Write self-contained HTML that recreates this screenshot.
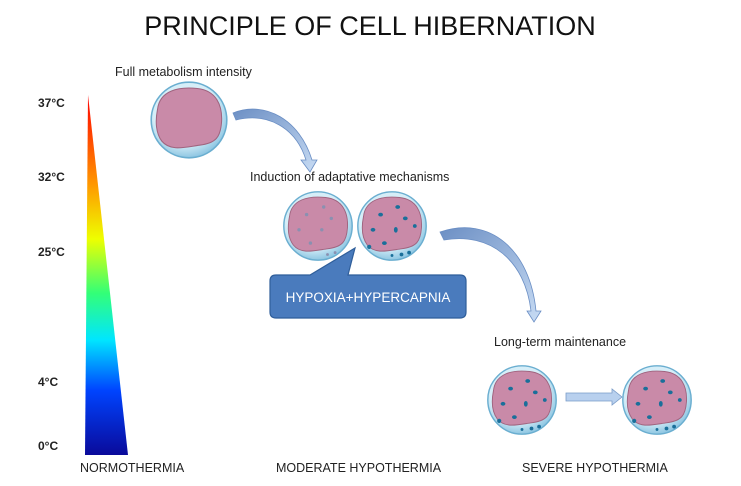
<!DOCTYPE html>
<html><head><style>
body{margin:0;background:#fff;}
svg{display:block;font-family:"Liberation Sans",sans-serif;}
</style></head><body>
<svg width="741" height="486" viewBox="0 0 741 486">
<defs>
<linearGradient id="g" x1="0" y1="0" x2="0" y2="1">
<stop offset="0" stop-color="#ff0000"/>
<stop offset="0.25" stop-color="#ff9900"/>
<stop offset="0.4" stop-color="#eeff00"/>
<stop offset="0.55" stop-color="#33ff77"/>
<stop offset="0.68" stop-color="#00e6ff"/>
<stop offset="0.82" stop-color="#0044ff"/>
<stop offset="1" stop-color="#0a0a9a"/>
</linearGradient>
<linearGradient id="ar" x1="0" y1="0" x2="1" y2="1">
<stop offset="0" stop-color="#6c8fc4"/><stop offset="1" stop-color="#c8dcf4"/>
</linearGradient>
<radialGradient id="mem" cx="0.45" cy="0.4" r="0.6">
<stop offset="0.7" stop-color="#d6eef8"/><stop offset="1" stop-color="#8ec6e2"/>
</radialGradient>
<g id="cell">
<circle r="36" fill="url(#mem)" stroke="#6aaed0" stroke-width="1.5"/>
<path d="M-30,-10 C-28,-28 -10,-32 8,-30 C26,-28 32,-14 31,2 C30,16 26,22 10,24 C-4,26 -18,30 -26,20 C-32,12 -32,0 -30,-10Z" fill="#c98aa8" stroke="#a0647f" stroke-width="1"/>
</g>
<g id="dots">
<g fill="#1a6f9a"><ellipse cx="-12" cy="-12" rx="2.5" ry="2"/><ellipse cx="6" cy="-20" rx="2.5" ry="2"/><ellipse cx="14" cy="-8" rx="2.5" ry="2"/><ellipse cx="-20" cy="4" rx="2.5" ry="2"/><ellipse cx="4" cy="4" rx="2" ry="3"/><ellipse cx="24" cy="0" rx="2" ry="2"/><ellipse cx="-8" cy="18" rx="2.5" ry="2"/><circle cx="-24" cy="22" r="2.2"/><circle cx="10" cy="30" r="2"/><circle cx="18" cy="28" r="2"/><circle cx="0" cy="31" r="1.5"/></g>
</g>
</defs>
<text x="370" y="35" font-size="27" text-anchor="middle" fill="#111">PRINCIPLE OF CELL HIBERNATION</text>
<polygon points="88,95 85,455 128,455" fill="url(#g)"/>
<g font-size="12" font-weight="bold" fill="#222">
<text x="38" y="107">37°C</text><text x="38" y="181">32°C</text><text x="38" y="256">25°C</text><text x="38" y="386">4°C</text><text x="38" y="450">0°C</text>
</g>
<g font-size="12.5" fill="#222">
<text x="115" y="76">Full metabolism intensity</text>
<text x="250" y="181">Induction of adaptative mechanisms</text>
<text x="494" y="346">Long-term maintenance</text>
<text x="80" y="472">NORMOTHERMIA</text>
<text x="276" y="472">MODERATE HYPOTHERMIA</text>
<text x="522" y="472">SEVERE HYPOTHERMIA</text>
</g>
<use href="#cell" x="189" y="120" transform="translate(189 120) scale(1.05) translate(-189 -120)"/>
<use href="#cell" x="318" y="226" transform="translate(318 226) scale(0.95) translate(-318 -226)"/>
<g fill="#8a90b0" transform="translate(318 226) scale(0.95)"><circle cx="-12" cy="-12" r="1.8"/><circle cx="6" cy="-20" r="1.8"/><circle cx="14" cy="-8" r="1.8"/><circle cx="-20" cy="4" r="1.8"/><circle cx="4" cy="4" r="1.8"/><circle cx="-8" cy="18" r="1.8"/><circle cx="10" cy="30" r="1.5"/><circle cx="18" cy="28" r="1.5"/></g>
<use href="#cell" x="392" y="226" transform="translate(392 226) scale(0.95) translate(-392 -226)"/>
<use href="#dots" transform="translate(392 226) scale(0.95)"/>
<use href="#cell" x="522" y="400" transform="translate(522 400) scale(0.95) translate(-522 -400)"/>
<use href="#dots" transform="translate(522 400) scale(0.95)"/>
<use href="#cell" x="657" y="400" transform="translate(657 400) scale(0.95) translate(-657 -400)"/>
<use href="#dots" transform="translate(657 400) scale(0.95)"/>
<path d="M233,113 C265,100 300,120 312,160 L317,160 L310,172 L301,160 L306,160 C296,128 268,112 236,120Z" fill="url(#ar)" stroke="#6a8ec4" stroke-width="0.8"/>
<path d="M440,232 C490,215 530,250 536,311 L541,311 L534,322 L527,311 L531,311 C525,260 490,232 444,240Z" fill="url(#ar)" stroke="#6a8ec4" stroke-width="0.8"/>
<path d="M566,393 L612,393 L612,389 L622,397 L612,405 L612,401 L566,401Z" fill="#b8d0ee" stroke="#7a9cc8" stroke-width="0.8"/>
<path d="M276,275 L310,275 L355,248 L348,275 L460,275 Q466,275 466,281 L466,312 Q466,318 460,318 L276,318 Q270,318 270,312 L270,281 Q270,275 276,275Z" fill="#4a7bbd" stroke="#2f5e9a" stroke-width="1.2"/>
<text x="368" y="302" font-size="13.5" fill="#fff" text-anchor="middle">HYPOXIA+HYPERCAPNIA</text>
</svg>
</body></html>
